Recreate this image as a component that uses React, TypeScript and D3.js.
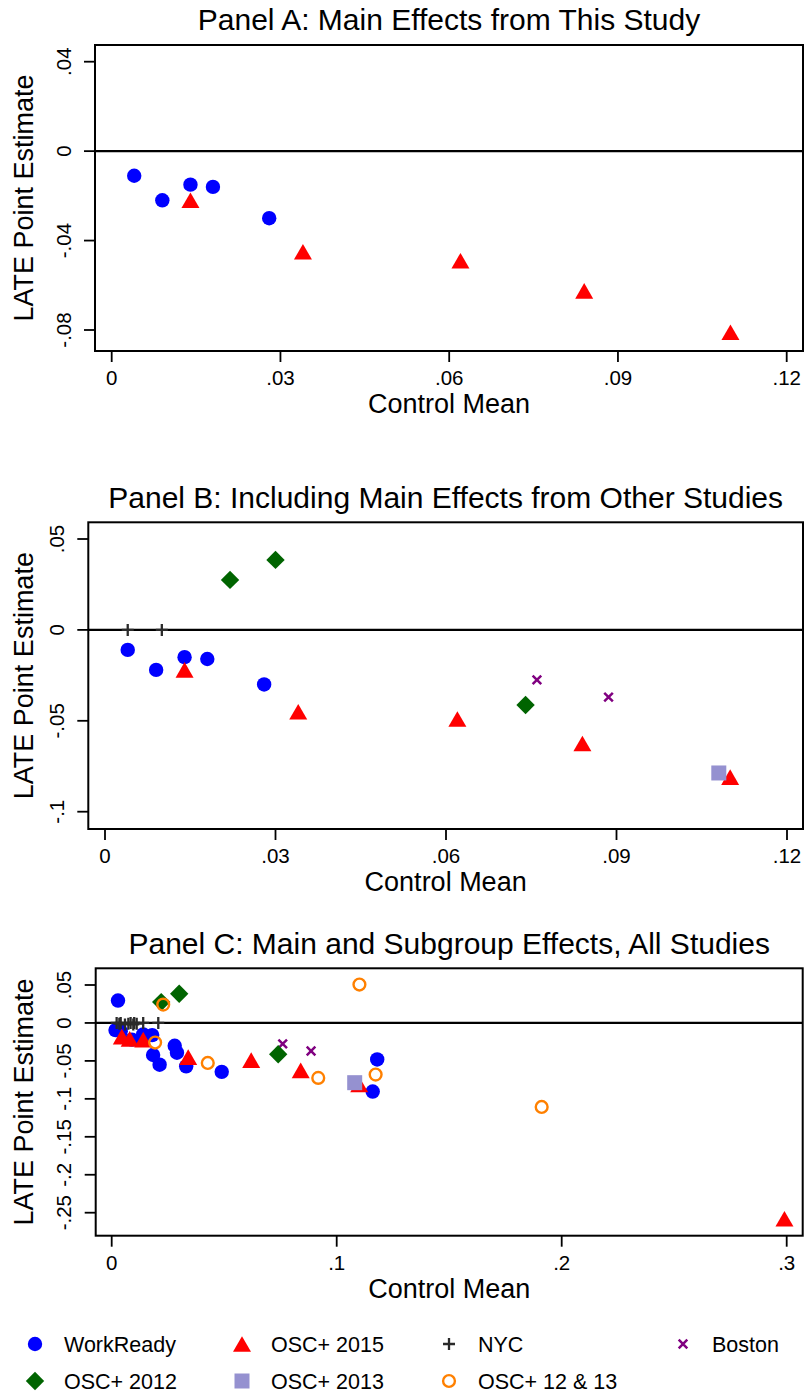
import React from "react";
import * as d3 from "d3";

const FONT = "'Liberation Sans', Arial, Helvetica, sans-serif";

// ---------------- DATA ----------------
// Main effects, this study
const workReadyMainCM = [0.004, 0.009, 0.014, 0.018, 0.028];
const workReadyMainLATE = [-0.011, -0.022, -0.015, -0.016, -0.030];
const osc2015MainCM = [0.014, 0.034, 0.062, 0.084, 0.110];
const osc2015MainLATE = [-0.022, -0.045, -0.049, -0.0625, -0.081];

// Main effects, other studies
const nycMainCM = [0.004, 0.010];
const nycMainLATE = [0, 0];
const osc2012MainCM = [0.022, 0.030, 0.074];
const osc2012MainLATE = [0.0275, 0.0385, -0.0413];
const bostonMainCM = [0.076, 0.0886];
const bostonMainLATE = [-0.0275, -0.037];
const osc2013MainCM = [0.108];
const osc2013MainLATE = [-0.0787];

// Subgroup effects (panel C)
const workReadySubCM = [0.0028, 0.0017, 0.0184, 0.0213, 0.029, 0.0331, 0.0489, 0.118, 0.116];
const workReadySubLATE = [0.0295, -0.0094, -0.0422, -0.0550, -0.0392, -0.0572, -0.0644, -0.0481, -0.0904];
const osc2015SubCM = [0.0045, 0.008, 0.299];
const osc2015SubLATE = [-0.018, -0.021, -0.258];
const nycSubCM = [0.0022, 0.0034, 0.0059, 0.0074, 0.0084, 0.0096, 0.0111, 0.014, 0.0207];
const nycSubLATE = [0, -0.001, -0.002, -0.001, 0, -0.002, -0.001, 0, 0];
const osc1213SubCM = [0.0229, 0.0193, 0.0427, 0.0918, 0.1101, 0.1173, 0.1911];
const osc1213SubLATE = [0.0242, -0.0258, -0.0527, -0.0724, 0.0506, -0.068, -0.1107];

// Ticks
const xTicksAB = [0, 0.03, 0.06, 0.09, 0.12];
const xTicksC = [0, 0.1, 0.2, 0.3];
const yTicksA = [0.04, 0, -0.04, -0.08];
const yTicksB = [0.05, 0, -0.05, -0.1];
const yTicksC = [0.05, 0, -0.05, -0.1, -0.15, -0.2, -0.25];

const legendLabels = ["WorkReady", "OSC+ 2015", "NYC", "Boston", "OSC+ 2012", "OSC+ 2013", "OSC+ 12 & 13"];
const legendKinds = ["circle", "triangle", "plus", "x", "diamond", "square", "hollow"];

const fmt = (v: number) => (v === 0 ? "0" : String(+v.toFixed(4)).replace("0.", "."));

type Kind = "circle" | "triangle" | "plus" | "x" | "diamond" | "square" | "hollow";
type Series = { kind: Kind; cm: number[]; late: number[] };

function Marker({ kind, x, y }: { kind: Kind; x: number; y: number }) {
  const t = `translate(${x},${y})`;
  switch (kind) {
    case "circle":
      return <circle transform={t} r={7.2} fill="#0000ff" />;
    case "triangle":
      return <path transform={t} d="M0,-7.8 L9,7.8 L-9,7.8 Z" fill="#ff0000" />;
    case "plus":
      return <path transform={t} d="M-6,0 H6 M0,-6 V6" stroke="#2a2a2a" strokeWidth={2.3} fill="none" />;
    case "x":
      return <path transform={t} d="M-4.3,-4.3 L4.3,4.3 M-4.3,4.3 L4.3,-4.3" stroke="#800080" strokeWidth={2.5} fill="none" />;
    case "diamond":
      return <path transform={t} d="M0,-9.2 L9.2,0 L0,9.2 L-9.2,0 Z" fill="#006400" />;
    case "square":
      return <rect transform={t} x={-7.5} y={-7.5} width={15} height={15} fill="#9591d0" />;
    case "hollow":
      return <circle transform={t} r={5.9} fill="none" stroke="#ff8000" strokeWidth={2.4} />;
  }
  return null;
}

type PanelProps = {
  title: string;
  titleY: number;
  frame: { l: number; t: number; r: number; b: number };
  xDom: [number, number];
  xRng: [number, number];
  yDom: [number, number];
  yRng: [number, number];
  xTicks: number[];
  yTicks: number[];
  yLabelX: number;
  series: Series[];
};

function Panel(p: PanelProps) {
  const x = d3.scaleLinear().domain(p.xDom).range(p.xRng);
  const y = d3.scaleLinear().domain(p.yDom).range(p.yRng);
  const { l, t, r, b } = p.frame;
  const cx = (l + r) / 2;
  const cy = (t + b) / 2;
  return (
    <g>
      <text x={cx} y={p.titleY} textAnchor="middle" fontSize={30} fontFamily={FONT} fill="#000">
        {p.title}
      </text>
      <rect x={l} y={t} width={r - l} height={b - t} fill="#fff" stroke="#000" strokeWidth={2} />
      <line x1={l} x2={r} y1={y(0)} y2={y(0)} stroke="#000" strokeWidth={2.2} />
      {p.series.map((s, si) =>
        s.cm.map((c, i) => <Marker key={`${si}-${i}`} kind={s.kind} x={x(c)} y={y(s.late[i])} />)
      )}
      {p.yTicks.map((v) => (
        <g key={`y${v}`}>
          <line x1={l - 11} x2={l} y1={y(v)} y2={y(v)} stroke="#000" strokeWidth={1.8} />
          <text
            transform={`translate(${p.yLabelX},${y(v)}) rotate(-90)`}
            textAnchor="middle"
            fontSize={20.5}
            fontFamily={FONT}
          >
            {fmt(v)}
          </text>
        </g>
      ))}
      {p.xTicks.map((v) => (
        <g key={`x${v}`}>
          <line x1={x(v)} x2={x(v)} y1={b} y2={b + 11} stroke="#000" strokeWidth={1.8} />
          <text x={x(v)} y={b + 34} textAnchor="middle" fontSize={20.5} fontFamily={FONT}>
            {fmt(v)}
          </text>
        </g>
      ))}
      <text x={cx} y={b + 62} textAnchor="middle" fontSize={27} fontFamily={FONT}>
        Control Mean
      </text>
      <text transform={`translate(33,${cy}) rotate(-90)`} textAnchor="middle" fontSize={27} fontFamily={FONT}>
        LATE Point Estimate
      </text>
    </g>
  );
}

export default function App() {
  const seriesA: Series[] = [
    { kind: "circle", cm: workReadyMainCM, late: workReadyMainLATE },
    { kind: "triangle", cm: osc2015MainCM, late: osc2015MainLATE },
  ];
  const seriesB: Series[] = [
    ...seriesA,
    { kind: "plus", cm: nycMainCM, late: nycMainLATE },
    { kind: "x", cm: bostonMainCM, late: bostonMainLATE },
    { kind: "diamond", cm: osc2012MainCM, late: osc2012MainLATE },
    { kind: "square", cm: osc2013MainCM, late: osc2013MainLATE },
  ];
  const seriesC: Series[] = [
    { kind: "circle", cm: [...workReadyMainCM, ...workReadySubCM], late: [...workReadyMainLATE, ...workReadySubLATE] },
    { kind: "triangle", cm: [...osc2015MainCM, ...osc2015SubCM], late: [...osc2015MainLATE, ...osc2015SubLATE] },
    { kind: "plus", cm: [...nycMainCM, ...nycSubCM], late: [...nycMainLATE, ...nycSubLATE] },
    { kind: "x", cm: bostonMainCM, late: bostonMainLATE },
    { kind: "diamond", cm: osc2012MainCM, late: osc2012MainLATE },
    { kind: "square", cm: osc2013MainCM, late: osc2013MainLATE },
    { kind: "hollow", cm: osc1213SubCM, late: osc1213SubLATE },
  ];

  const legendX = [35, 242, 449, 683];
  const legendRowY = [1344, 1381];

  return (
    <svg
      width={805}
      height={1393}
      style={{ position: "absolute", left: 0, top: 0, background: "#fff" }}
      fontFamily={FONT}
    >
      <rect x={0} y={0} width={805} height={1393} fill="#fff" />
      <Panel
        title="Panel A: Main Effects from This Study"
        titleY={30}
        frame={{ l: 95, t: 45, r: 803, b: 351 }}
        xDom={[0, 0.12]}
        xRng={[111.7, 786.7]}
        yDom={[-0.08, 0.04]}
        yRng={[330, 61.7]}
        xTicks={xTicksAB}
        yTicks={yTicksA}
        yLabelX={71}
        series={seriesA}
      />
      <Panel
        title="Panel B: Including Main Effects from Other Studies"
        titleY={508}
        frame={{ l: 88.3, t: 522.3, r: 803, b: 829 }}
        xDom={[0, 0.12]}
        xRng={[105, 787]}
        yDom={[-0.1, 0.05]}
        yRng={[811.7, 539]}
        xTicks={xTicksAB}
        yTicks={yTicksB}
        yLabelX={63.5}
        series={seriesB}
      />
      <Panel
        title="Panel C: Main and Subgroup Effects, All Studies"
        titleY={953.5}
        frame={{ l: 95.7, t: 968.3, r: 802.7, b: 1235.7 }}
        xDom={[0, 0.3]}
        xRng={[111.7, 786.7]}
        yDom={[-0.25, 0.05]}
        yRng={[1212.7, 985]}
        xTicks={xTicksC}
        yTicks={yTicksC}
        yLabelX={71}
        series={seriesC}
      />
      {legendLabels.map((lab, i) => {
        const col = i < 4 ? i : i - 4;
        const row = i < 4 ? 0 : 1;
        return (
          <g key={lab}>
            <Marker kind={legendKinds[i] as Kind} x={legendX[col]} y={legendRowY[row]} />
            <text x={legendX[col] + 29} y={legendRowY[row] + 7.7} fontSize={21.5} fontFamily={FONT}>
              {lab}
            </text>
          </g>
        );
      })}
    </svg>
  );
}
